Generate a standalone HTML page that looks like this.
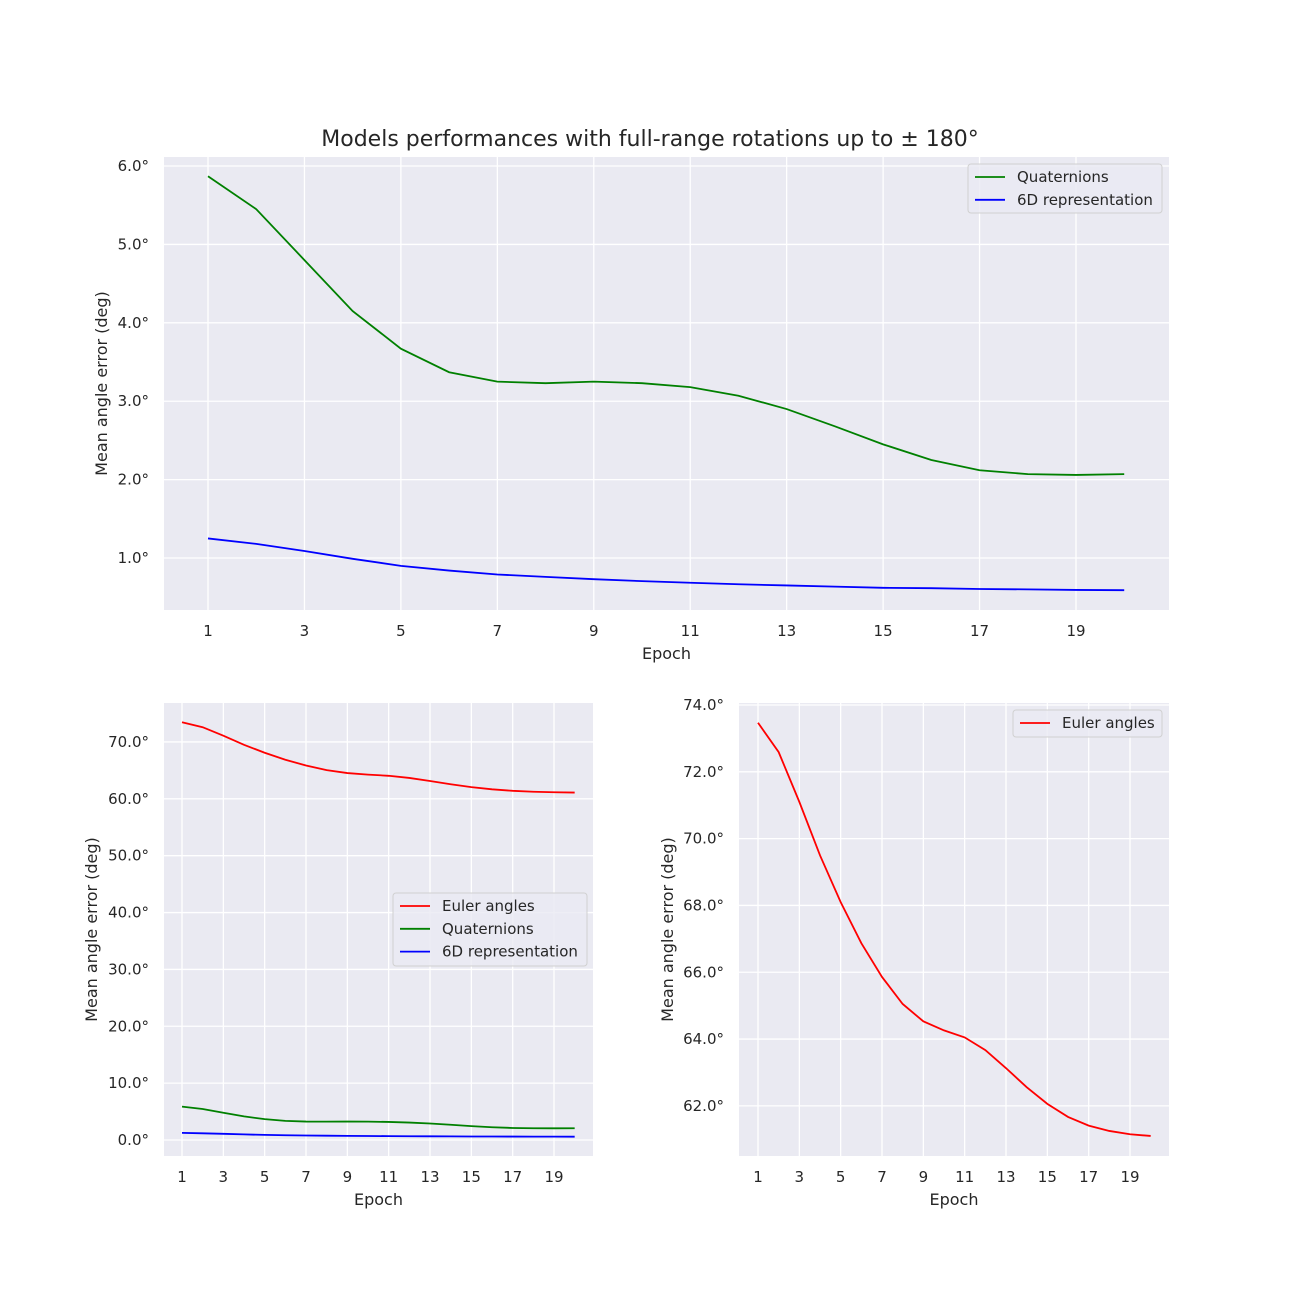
<!DOCTYPE html>
<html><head><meta charset="utf-8"><style>
html,body{margin:0;padding:0;background:#fff;}
svg{display:block;font-family:"DejaVu Sans","Liberation Sans",sans-serif;}
</style></head><body>
<svg id="fig" width="1300" height="1300" viewBox="0 0 1300 1300"></svg>
<script>
const epochs = [1,2,3,4,5,6,7,8,9,10,11,12,13,14,15,16,17,18,19,20];
const xTickLabels = [1,3,5,7,9,11,13,15,17,19];
const quatValues = [5.87,5.45,4.80,4.15,3.67,3.37,3.25,3.23,3.25,3.23,3.18,3.07,2.90,2.68,2.45,2.25,2.12,2.07,2.06,2.07];
const sixDValues = [1.25,1.18,1.09,0.99,0.90,0.84,0.79,0.76,0.73,0.705,0.685,0.665,0.65,0.635,0.62,0.615,0.605,0.60,0.593,0.59];
const eulerValues = [73.47,72.59,71.1,69.5,68.1,66.87,65.86,65.05,64.53,64.26,64.05,63.67,63.13,62.56,62.06,61.67,61.41,61.25,61.15,61.1];
const topYTicks = [1,2,3,4,5,6];
const leftYTicks = [0,10,20,30,40,50,60,70];
const rightYTicks = [62,64,66,68,70,72,74];

const NS="http://www.w3.org/2000/svg";
const svg=document.getElementById('fig');
function mk(tag,attrs,parent){const e=document.createElementNS(NS,tag);for(const k in attrs)e.setAttribute(k,attrs[k]);(parent||svg).appendChild(e);return e;}

function panel(name,box,xr,yr,yTicks,series,legend,yLabelX){
  const g=mk('g',{});
  
  
  const sx=v=>box.x0+(v-xr[0])/(xr[1]-xr[0])*(box.x1-box.x0);
  const sy=v=>box.y1-(v-yr[0])/(yr[1]-yr[0])*(box.y1-box.y0);
  const bg=mk('rect',{x:box.x0,y:box.y0,width:box.x1-box.x0,height:box.y1-box.y0,fill:'#eaeaf2'},g);
  
  
  xTickLabels.forEach(t=>{
    const x=sx(t);
    mk('line',{x1:x,x2:x,y1:box.y0,y2:box.y1,stroke:'#fff','stroke-width':1.3},g);
    const tx=mk('text',{x:x,y:box.y1+26,'font-size':15,'text-anchor':'middle',fill:'#262626'},g);
    tx.textContent=t;
    
    
  });
  yTicks.forEach(t=>{
    const y=sy(t);
    mk('line',{x1:box.x0,x2:box.x1,y1:y,y2:y,stroke:'#fff','stroke-width':1.3},g);
    const tx=mk('text',{x:box.x0-15,y:y+5,'font-size':15,'text-anchor':'end',fill:'#262626'},g);
    tx.textContent=t.toFixed(1)+'°';
    
    
  });
  series.forEach(s=>{
    const p=mk('polyline',{points:epochs.map((e,i)=>sx(e)+','+sy(s.vals[i])).join(' '),fill:'none',stroke:s.color,'stroke-width':1.8},g);
    
    
  });
  const xl=mk('text',{x:(box.x0+box.x1)/2,y:box.y1+49,'font-size':16,'text-anchor':'middle',fill:'#262626'},g);
  xl.textContent='Epoch';
  
  
  const yl=mk('text',{x:0,y:0,'font-size':16,'text-anchor':'middle',fill:'#262626',transform:`translate(${yLabelX},${(box.y0+box.y1)/2}) rotate(-90)`},g);
  yl.textContent='Mean angle error (deg)';
  
  
  const lg=mk('g',{},g);
  
  
  mk('rect',{x:legend.x,y:legend.y,width:legend.w,height:legend.h,rx:3,fill:'#eaeaf2','fill-opacity':0.8,stroke:'#d0d0d0'},lg);
  legend.items.forEach((it,i)=>{
    const y=legend.y+13+i*22.8;
    mk('line',{x1:legend.x+7,x2:legend.x+37,y1:y,y2:y,stroke:it.color,'stroke-width':1.8},lg);
    const t=mk('text',{x:legend.x+49,y:y+5,'font-size':15,fill:'#262626'},lg);
    t.textContent=it.label;
    
    
  });
}

const title=mk('text',{x:650,y:146,'font-size':22,'text-anchor':'middle',fill:'#262626'});
title.textContent='Models performances with full-range rotations up to ± 180°';



panel('top-chart',{x0:164,x1:1169,y0:157,y1:610},[1-44/48.222,1+(1169-208)/48.222],[0.337,6.115],topYTicks,
  [{name:'quaternions-line',vals:quatValues,color:'#008000'},{name:'6d-line',vals:sixDValues,color:'#0000ff'}],
  {x:968,y:164,w:194,h:49,items:[{label:'Quaternions',color:'#008000'},{label:'6D representation',color:'#0000ff'}]},107);

panel('bottom-left-chart',{x0:164,x1:593,y0:703,y1:1156},[1-18/20.667,1+(593-182)/20.667],[-2.81,76.85],leftYTicks,
  [{name:'euler-line',vals:eulerValues,color:'#ff0000'},{name:'quaternions-line',vals:quatValues,color:'#008000'},{name:'6d-line',vals:sixDValues,color:'#0000ff'}],
  {x:393,y:893,w:194,h:73,items:[{label:'Euler angles',color:'#ff0000'},{label:'Quaternions',color:'#008000'},{label:'6D representation',color:'#0000ff'}]},97);

panel('bottom-right-chart',{x0:739,x1:1169,y0:703,y1:1156},[1-19/20.667,1+(1169-758)/20.667],[60.5,74.06],rightYTicks,
  [{name:'euler-line',vals:eulerValues,color:'#ff0000'}],
  {x:1013,y:710,w:149,h:27,items:[{label:'Euler angles',color:'#ff0000'}]},673);
</script>
</body></html>
